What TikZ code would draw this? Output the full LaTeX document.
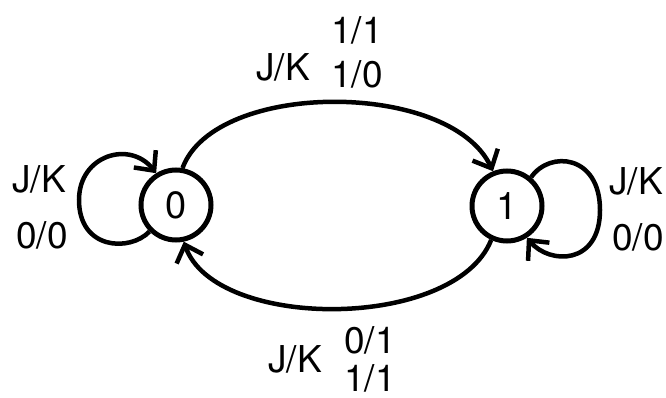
\documentclass[tikz,border=0pt]{standalone}
\usepackage{fontspec}
\setmainfont{TeX Gyre Heros}
\usetikzlibrary{arrows.meta}
\begin{document}
\begin{tikzpicture}[x=1pt,y=-1pt,
  state/.style={circle,draw,line width=5pt,minimum size=70pt,inner sep=0pt,font=\fontsize{38}{42}\selectfont},
  lbl/.style={font=\fontsize{37}{40}\selectfont,inner sep=0pt},
  edge/.style={line width=4.5pt,-{Straight Barb[length=15pt,width=28pt,line width=4.5pt]}}]
\useasboundingbox (0,0) rectangle (666,398);
\node[state] (s0) at (176,205) {0};
\node[state] (s1) at (507,206) {1};
% self loops
\draw[edge] (s0.225) .. controls (130,252) and (79,250) .. (79,200) .. controls (79,155) and (130,140) .. (s0.122);
\draw[edge] (s1.50) .. controls (550,150) and (600,155) .. (600,210) .. controls (600,265) and (550,265) .. (s1.-58);
% arcs
\draw[edge] (s0.80) .. controls (215,80) and (450,80) .. (s1.112);
\draw[edge] (s1.-115) .. controls (455,331) and (215,331) .. (s0.-78);
% labels
\node[lbl] (l0a) at (39,179) {J/K};
\node[lbl] (l0b) at (42,235) {0/0};
\node[lbl] (l1a) at (636,181) {J/K};
\node[lbl] (l1b) at (638,237) {0/0};
\node[lbl] (lta) at (283,67) {J/K};
\node[lbl] (ltb) at (357,30) {1/1};
\node[lbl] (ltc) at (357,74) {1/0};
\node[lbl] (lba) at (295,359) {J/K};
\node[lbl] (lbb) at (370,340) {0/1};
\node[lbl] (lbc) at (370,378) {1/1};
\end{tikzpicture}
\end{document}
